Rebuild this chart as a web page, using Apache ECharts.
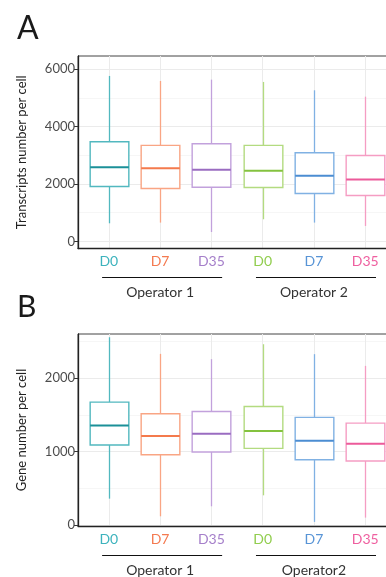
<!DOCTYPE html>
<html><head><meta charset="utf-8">
<script src="https://cdn.jsdelivr.net/npm/echarts@6/dist/echarts.min.js"></script>
<style>html,body{margin:0;padding:0;background:#fff}#c{width:386px;height:577px}</style>
</head><body><div id="c"></div>
<script>
// ---- data ----
const categories = ['D0', 'D7', 'D35', 'D0', 'D7', 'D35'];
const groupsA = ['Operator 1', 'Operator 2'];
const groupsB = ['Operator 1', 'Operator2'];
const groupMembers = [[0, 1, 2], [3, 4, 5]];

const transcriptsLow    = [629, 653, 326, 769, 653, 536];
const transcriptsQ1     = [1911, 1841, 1887, 1876, 1666, 1596];
const transcriptsMedian = [2586, 2551, 2493, 2458, 2283, 2155];
const transcriptsQ3     = [3470, 3344, 3400, 3344, 3087, 2994];
const transcriptsHigh   = [5765, 5590, 5636, 5556, 5265, 5043];

const genesLow    = [362, 122, 258, 407, 46, 104];
const genesQ1     = [1091, 959, 996, 1045, 891, 874];
const genesMedian = [1357, 1213, 1244, 1281, 1149, 1109];
const genesQ3     = [1674, 1516, 1547, 1615, 1466, 1389];
const genesHigh   = [2556, 2330, 2258, 2461, 2326, 2167];

const yTicksA = [0, 2000, 4000, 6000];
const yMinorA = [1000, 3000, 5000];
const yTicksB = [0, 1000, 2000];
const yMinorB = [500, 1500, 2500];

// ---- styles ----
const boxColors   = ['#52b8bf', '#f9a584', '#c2a1dc', '#b3db80', '#80b1e3', '#f59dc3'];
const medColors   = ['#1b9098', '#f47a4c', '#9a6cc1', '#84c23f', '#4b8dd2', '#ec5a9a'];
const labelColors = ['#3db3bd', '#f47a50', '#a57fca', '#91cd4e', '#5894d6', '#ef60a0'];
const FONT = 'Lato, "Open Sans", sans-serif';

const rich = {};
labelColors.forEach((c, i) => { rich['c' + i] = { color: c, fontSize: 14, fontFamily: FONT }; });

function rows(low, q1, med, q3, high) {
  return categories.map((_, i) => [i, low[i], q1[i], med[i], q3[i], high[i]]);
}

function renderBox(params, api) {
  const i = api.value(0);
  const half = api.size([1, 0])[0] * 0.377;
  const pL = api.coord([i, api.value(1)]);
  const p1 = api.coord([i, api.value(2)]);
  const pm = api.coord([i, api.value(3)]);
  const p3 = api.coord([i, api.value(4)]);
  const pH = api.coord([i, api.value(5)]);
  const x = Math.round(pL[0]) + 0.5;
  const bc = boxColors[i], mc = medColors[i];
  return {
    type: 'group',
    children: [
      { type: 'line', shape: { x1: x, y1: pH[1], x2: x, y2: p3[1] }, style: { stroke: bc, lineWidth: 1.3 } },
      { type: 'line', shape: { x1: x, y1: p1[1], x2: x, y2: pL[1] }, style: { stroke: bc, lineWidth: 1.3 } },
      { type: 'rect', shape: { x: x - half, y: p3[1], width: 2 * half, height: p1[1] - p3[1] },
        style: { fill: '#fff', stroke: bc, lineWidth: 1.4 } },
      { type: 'line', shape: { x1: x - half, y1: pm[1], x2: x + half, y2: pm[1] }, style: { stroke: mc, lineWidth: 2 } }
    ]
  };
}

const panels = [
  { top: 56, height: 192.5, min: -250, max: 6460, ticks: yTicksA, minor: yMinorA, name: 'Transcripts number per cell',
    groups: groupsA, data: rows(transcriptsLow, transcriptsQ1, transcriptsMedian, transcriptsQ3, transcriptsHigh) },
  { top: 334, height: 192, min: -10, max: 2600, ticks: yTicksB, minor: yMinorB, name: 'Gene number per cell',
    groups: groupsB, data: rows(genesLow, genesQ1, genesMedian, genesQ3, genesHigh) }
];

const catIdx = categories.map((_, i) => i);
const groupCenters = groupMembers.map(g => g[1]);

const option = {
  animation: false,
  backgroundColor: '#fff',
  textStyle: { fontFamily: FONT },
  title: [
    { text: 'A', left: 12, top: 8, textStyle: { fontSize: 32, fontWeight: 'normal', color: '#1a1a1a', fontFamily: FONT } },
    { text: 'B', left: 12, top: 287, textStyle: { fontSize: 30, fontWeight: 'normal', color: '#1a1a1a', fontFamily: FONT } }
  ],
  grid: panels.map(p => ({ left: 78, top: p.top, height: p.height, width: 318, show: true,
    borderColor: '#444', borderWidth: 1, backgroundColor: 'transparent', outerBoundsMode: 'none', containLabel: false })),
  xAxis: [],
  yAxis: [],
  series: []
};

panels.forEach((p, g) => {
  option.xAxis.push({
    type: 'value', gridIndex: g, min: -0.6, max: 5.6, position: 'bottom',
    axisLine: { show: true, onZero: false, lineStyle: { color: '#222', width: 1.3 } },
    axisTick: { show: false }, splitLine: { show: false },
    axisLabel: { customValues: catIdx, margin: 6, formatter: v => '{c' + v + '|' + categories[v] + '}', rich: rich }
  });
  option.xAxis.push({
    type: 'value', gridIndex: g, min: -0.6, max: 5.6, position: 'bottom',
    axisLine: { show: false }, axisTick: { show: false }, splitLine: { show: false },
    axisLabel: { customValues: groupCenters, margin: 37, fontSize: 14, color: '#333', fontFamily: FONT,
      formatter: v => p.groups[groupCenters.indexOf(v)] }
  });
  option.yAxis.push({
    type: 'value', gridIndex: g, min: p.min, max: p.max,
    axisLine: { show: true, onZero: false, lineStyle: { color: '#222', width: 1.3 } },
    axisTick: { show: true, customValues: p.ticks, length: 4, lineStyle: { color: '#333' } },
    axisLabel: { customValues: p.ticks, margin: 3, fontSize: 13, color: '#4d4d4d', fontFamily: FONT,
      formatter: v => String(v) },
    splitLine: { show: false },
    name: p.name, nameLocation: 'middle', nameGap: 50,
    nameTextStyle: { fontSize: 13, color: '#222', fontFamily: FONT }
  });
  // grid lines
  option.series.push({
    type: 'line', xAxisIndex: g * 2, yAxisIndex: g, data: [], z: 0, silent: true,
    markLine: {
      symbol: 'none', silent: true, animation: false, z: 0, label: { show: false },
      data: [
        ...p.minor.map(v => ({ yAxis: v, lineStyle: { color: '#f4f4f4', width: 0.8, type: 'solid' } })),
        ...p.ticks.map(v => ({ yAxis: v, lineStyle: { color: '#ebebeb', width: 1, type: 'solid' } })),
        ...catIdx.map(v => ({ xAxis: v, lineStyle: { color: '#ebebeb', width: 1, type: 'solid' } }))
      ]
    }
  });
  option.series.push({
    type: 'custom', xAxisIndex: g * 2, yAxisIndex: g, z: 3,
    renderItem: renderBox,
    encode: { x: 0, y: [1, 2, 3, 4, 5] },
    data: p.data
  });
});

const chart = echarts.init(document.getElementById('c'), null, { renderer: 'canvas' });
chart.setOption(option);

// group underline brackets
const gfx = [];
panels.forEach((p, g) => {
  const y = Math.floor(p.top + p.height + 29) + 0.5;
  groupMembers.forEach(m => {
    const x1 = chart.convertToPixel({ xAxisIndex: g * 2 }, m[0] - 0.13);
    const x2 = chart.convertToPixel({ xAxisIndex: g * 2 }, m[m.length - 1] + 0.21);
    gfx.push({ type: 'line', shape: { x1: x1, y1: y, x2: x2, y2: y }, style: { stroke: '#111', lineWidth: 1.2 } });
  });
});
chart.setOption({ graphic: gfx });
</script></body></html>
